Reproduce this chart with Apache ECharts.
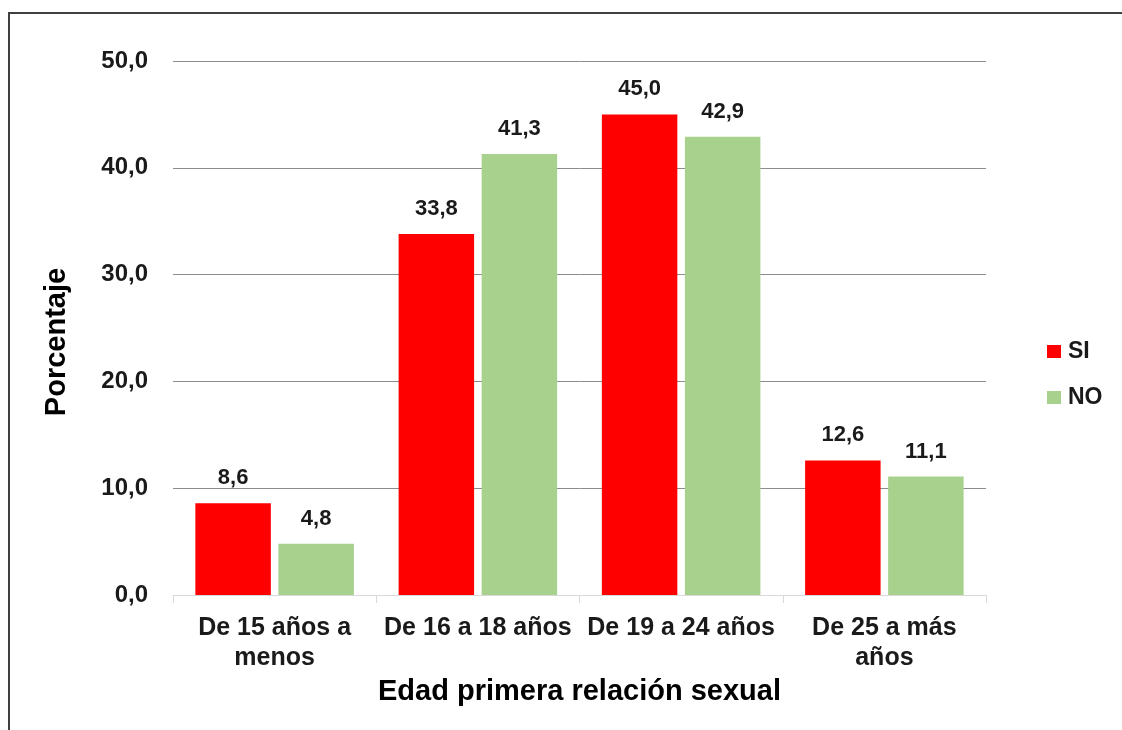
<!DOCTYPE html>
<html><head><meta charset="utf-8">
<script src="https://cdn.jsdelivr.net/npm/echarts@6/dist/echarts.min.js"></script>
<style>html,body{margin:0;padding:0;background:#fff}#c{width:1122px;height:730px}</style>
</head><body><div id="c"></div>
<script>
const categories = ['De 15 años a\nmenos', 'De 16 a 18 años', 'De 19 a 24 años', 'De 25 a más\naños'];
const siValues = [8.6, 33.8, 45.0, 12.6];
const noValues = [4.8, 41.3, 42.9, 11.1];
const seriesNames = ['SI', 'NO'];
const yTicks = {min: 0, max: 50, interval: 10};

const chart = echarts.init(document.getElementById('c'));
const font = 'Liberation Sans, Arial, sans-serif';
const lbl = {show: true, position: 'top', distance: 14, fontFamily: font, fontWeight: 'bold', fontSize: 22, color: '#1a1a1a',
  formatter: p => p.value.toFixed(1).replace('.', ',')};
chart.setOption({
  animation: false,
  graphic: [{type: 'rect', shape: {x: 9, y: 13, width: 1200, height: 800}, style: {fill: 'none', stroke: '#404040', lineWidth: 2}}],
  legend: {orient: 'vertical', left: 1047, top: 340, padding: 0, itemWidth: 14, itemHeight: 13, itemGap: 23, icon: 'rect',
    textStyle: {fontFamily: font, fontWeight: 'bold', fontSize: 23, color: '#1a1a1a', padding: [0, 0, 0, 2]}, data: seriesNames},
  grid: {left: 173, right: 136, top: 61, bottom: 135},
  xAxis: {type: 'category', data: categories,
    name: 'Edad primera relación sexual', nameLocation: 'middle', nameGap: 80,
    nameTextStyle: {fontFamily: font, fontWeight: 'bold', fontSize: 29, color: '#000'},
    axisLine: {lineStyle: {color: '#d9d9d9', width: 1}},
    axisTick: {show: true, length: 8, lineStyle: {color: '#d9d9d9'}},
    axisLabel: {fontFamily: font, fontWeight: 'bold', fontSize: 25, color: '#1a1a1a', lineHeight: 30, margin: 18, interval: 0}},
  yAxis: {type: 'value', min: yTicks.min, max: yTicks.max, interval: yTicks.interval,
    name: 'Porcentaje', nameLocation: 'middle', nameGap: 102, nameRotate: 90,
    nameTextStyle: {fontFamily: font, fontWeight: 'bold', fontSize: 29, color: '#000', padding: [0, 28, 0, 0]},
    axisLine: {show: false}, axisTick: {show: false},
    axisLabel: {fontFamily: font, fontWeight: 'bold', fontSize: 24, color: '#1a1a1a', margin: 25,
      formatter: v => v.toFixed(1).replace('.', ',')},
    splitLine: {lineStyle: {color: '#8c8c8c', width: 1}}},
  series: [
    {name: seriesNames[0], type: 'bar', data: siValues, itemStyle: {color: '#ff0000'}, barGap: '10%', barCategoryGap: '22%', label: lbl},
    {name: seriesNames[1], type: 'bar', data: noValues, itemStyle: {color: '#a9d18e'}, barGap: '10%', barCategoryGap: '22%', label: lbl}
  ]
});
</script></body></html>
